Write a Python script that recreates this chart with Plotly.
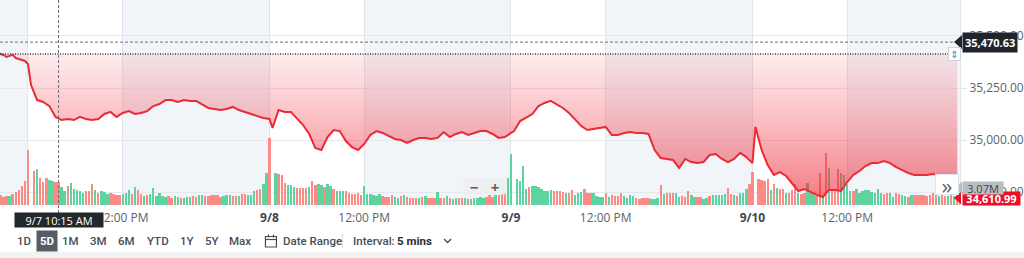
import plotly.graph_objects as go

# ---------------- data ----------------
day_labels = ["9/3", "9/7", "9/8", "9/9", "9/10"]
bars_per_day = 79          # 5-minute bars 9:30 ... 16:00
noon_bar = 30              # 12:00 PM
crosshair_day, crosshair_bar, crosshair_text = 1, 9, "9/7 10:15 AM"

# prices: 9/3 every bar from bar 68; other days every 2 bars from 9:30
price_0903_start = 68
price_0903 = [35418, 35413, 35409, 35399, 35404, 35409, 35394, 35389, 35385, 35380, 35365]
price_step = 2
price_0907 = [35264, 35192, 35183, 35163, 35111, 35096, 35101, 35096, 35111, 35101,
              35096, 35101, 35125, 35135, 35111, 35130, 35139, 35125, 35130, 35139,
              35163, 35173, 35192, 35192, 35183, 35192, 35188, 35188, 35173, 35154,
              35149, 35144, 35149, 35159, 35144, 35135, 35125, 35115, 35106, 35101]
price_0908 = [35058, 35144, 35135, 35135, 35106, 35072, 35029, 34962, 34952, 35014,
              35048, 35043, 34995, 34966, 34952, 34981, 35024, 35043, 35034, 35019,
              35005, 35000, 34986, 35000, 35010, 35010, 35005, 35010, 35038, 35014,
              35029, 35038, 35024, 35034, 35043, 35043, 35029, 35010, 35014, 35034]
price_0909 = [35043, 35091, 35106, 35125, 35163, 35178, 35188, 35173, 35154, 35130,
              35101, 35067, 35048, 35053, 35058, 35063, 35024, 35024, 35034, 35038,
              35034, 35034, 35029, 34952, 34913, 34909, 34904, 34865, 34909, 34894,
              34889, 34894, 34928, 34933, 34909, 34894, 34909, 34938, 34918, 34889]
price_0910 = [35063, 34952, 34880, 34832, 34846, 34827, 34788, 34755, 34764, 34750,
              34736, 34726, 34760, 34760, 34755, 34798, 34832, 34851, 34875, 34889,
              34889, 34899, 34889, 34870, 34856, 34841, 34832, 34832, 34832, 34837,
              34827, 34827, 34827, 34827]

prev_close = 35413
crosshair_price = 35470.63
last_price = 34610.99
last_volume = 3.07  # millions

# volume in millions ; u = up bar, d = down bar, - = none
vol_0903_start = 69
vol_0903 = [2.0, 1.6, 1.9, 1.9, 2.2, 2.6, 3.0, 3.8, 4.8, 11.0]
dir_0903 = "ddduddddd d"
vol_0907 = [0, 6.8, 7.2, 5.4, 4.6, 5.4, 5.0, 4.8, 4.6, 4.6,
            3.6, 2.8, 3.8, 4.4, 3.2, 3.0, 2.8, 2.4, 2.8, 2.8,
            4.2, 3.0, 2.4, 2.8, 2.6, 2.2, 2.4, 2.2, 2.0, 2.0,
            2.2, 2.4, 3.0, 2.2, 3.6, 3.0, 2.2, 1.8, 2.0, 2.2,
            3.4, 1.8, 2.4, 1.8, 1.6, 1.8, 1.4, 1.8, 1.6, 1.4,
            1.4, 1.6, 1.6, 1.8, 1.6, 2.0, 2.0, 1.8, 1.8, 2.0,
            2.0, 2.0, 1.6, 1.8, 2.0, 2.0, 1.8, 1.8, 1.8, 2.2,
            2.2, 2.0, 2.0, 2.8, 3.0, 3.2, 4.2, 6.4, 13.4]
dir_0907 = "-dudd duudd uuduu uuudd duduu udddd uuudu ddudu uuuuu dduud uuudd uuddd ddduu uddud duuud duud"
vol_0908 = [0, 6.4, 6.2, 6.0, 4.4, 4.0, 4.0, 3.6, 3.4, 3.4,
            3.4, 3.4, 3.6, 4.8, 4.0, 4.2, 4.0, 3.6, 4.2, 3.8,
            3.2, 2.8, 2.8, 2.8, 2.8, 2.4, 2.2, 2.2, 2.4, 2.0,
            3.8, 2.2, 2.2, 2.0, 1.8, 2.2, 1.8, 1.6, 1.6, 2.0,
            1.6, 1.4, 1.8, 2.0, 1.6, 1.4, 1.4, 1.4, 1.4, 1.6,
            1.8, 1.4, 1.4, 1.4, 2.6, 1.4, 1.4, 1.8, 1.4, 1.2,
            1.4, 1.4, 1.4, 1.4, 1.2, 1.2, 1.4, 1.4, 1.6, 1.4,
            1.6, 2.0, 1.6, 2.0, 2.0, 2.2, 2.4, 5.4, 10.2]
dir_0908 = "-uddd uuudd ddudd uuduu duuud ddddd uuuuu udddd uudud dddud udddu ddudu uddud uuuuu dddud dduu"
vol_0909 = [0, 5.2, 4.8, 7.8, 3.2, 3.6, 3.8, 3.8, 3.6, 3.2,
            2.8, 2.8, 3.0, 2.8, 2.8, 2.8, 2.6, 2.4, 2.4, 3.0,
            2.0, 2.4, 2.6, 3.2, 2.4, 2.4, 2.4, 1.8, 1.6, 1.6,
            2.4, 1.6, 2.0, 1.8, 1.8, 2.4, 1.8, 1.4, 2.0, 1.8,
            1.4, 1.2, 1.4, 1.4, 1.4, 1.2, 1.2, 1.4, 4.0, 2.2,
            2.4, 2.4, 2.4, 2.4, 1.6, 1.8, 1.6, 2.8, 2.0, 1.6,
            1.6, 1.6, 1.2, 1.4, 1.8, 2.0, 2.0, 2.0, 2.0, 2.2,
            3.4, 2.2, 2.0, 1.8, 2.4, 2.4, 3.2, 4.2, 6.6]
dir_0909 = "-uuuu duuuu uuudd ddudd uuudd duuuu duddd duuuu ddddd uuudu ddduu ddduu dduud uuuuu ddudu uudd"
vol_0910 = [0, 5.2, 5.0, 4.8, 5.2, 3.0, 4.2, 3.4, 3.2, 3.2,
            2.4, 2.4, 3.0, 4.2, 2.4, 2.2, 2.4, 4.4, 2.4, 2.2,
            1.8, 6.4, 1.8, 10.4, 7.4, 3.0, 3.2, 7.2, 6.4, 6.0,
            4.2, 2.8, 2.8, 3.2, 2.4, 2.8, 3.0, 3.0, 2.6, 2.4,
            3.2, 2.4, 2.2, 2.4, 2.4, 1.6, 2.4, 2.2, 2.0, 1.8,
            1.6, 2.0, 2.0, 2.0, 2.0, 2.0, 1.8, 2.0, 2.4, 2.2,
            1.8, 2.2, 1.8, 1.8, 2.2, 1.8, 2.0, 1.8]
dir_0910 = "-dddd ududd udddu dduuu ddudu ddduu uuduu uuuuu uuddu udduu duddd ddddd uddud udd"

y_ticks = [34750, 35000, 35250, 35500]
range_buttons = ["1D", "5D", "1M", "3M", "6M", "YTD", "1Y", "5Y", "Max"]

# ---------------- helpers ----------------
def idx(day, bar):
    return (day - 1) * bars_per_day + bar

W, H = 962, 205
def fx(px):
    return px / W
def fy(py):
    return (H - py) / H

GREEN, RED = "#5dd3a0", "#fa8c85"

# price series
px_x, px_y = [], []
for k, v in enumerate(price_0903):
    px_x.append(idx(0, price_0903_start + k)); px_y.append(v)
for d, arr in zip([1, 2, 3, 4], [price_0907, price_0908, price_0909, price_0910]):
    for k, v in enumerate(arr):
        px_x.append(idx(d, k * price_step)); px_y.append(v)

# volume series
vx, vy, vc = [], [], []
def add_vol(day, start, vols, dirs):
    dirs = dirs.replace(" ", "")
    for k, (v, s) in enumerate(zip(vols, dirs)):
        vx.append(idx(day, start + k)); vy.append(v)
        vc.append(GREEN if s == "u" else RED)
add_vol(0, vol_0903_start, vol_0903, dir_0903)
for d, vols, dirs in [(1, vol_0907, dir_0907), (2, vol_0908, dir_0908),
                      (3, vol_0909, dir_0909), (4, vol_0910, dir_0910)]:
    add_vol(d, 0, vols, dirs)

x_lo = -10.15
x_hi = 303.9

fig = go.Figure()
fig.add_trace(go.Bar(x=vx, y=vy, marker=dict(color=vc, line=dict(width=0)),
                     width=0.78, yaxis="y", hoverinfo="skip", showlegend=False))
fig.add_trace(go.Scatter(x=px_x, y=[prev_close] * len(px_x), yaxis="y2", mode="lines",
                         line=dict(width=0, color="rgba(0,0,0,0)"), hoverinfo="skip",
                         showlegend=False))
fig.add_trace(go.Scatter(x=px_x, y=px_y, yaxis="y2", mode="lines", fill="tonexty",
                         fillgradient=dict(type="vertical",
                                           colorscale=[[0, "rgba(236,32,48,0.58)"],
                                                       [1, "rgba(245,70,85,0.10)"]]),
                         line=dict(color="#ec2a36", width=2), hoverinfo="skip",
                         showlegend=False))

# ticks
tickvals, ticktext = [], []
for d in range(1, 5):
    tickvals.append(idx(d, 0) - 1)
    ticktext.append('<span style="color:#3f474f;font-weight:bold">%s</span>' % day_labels[d])
    tickvals.append(idx(d, noon_bar))
    ticktext.append("12:00 PM")

shapes = []
BAND = "#f1f4f8"
bands = [(x_lo, idx(1, 0) - 1)]
for d in range(1, 5):
    end = idx(d + 1, 0) - 1 if d < 4 else x_hi
    bands.append((idx(d, noon_bar), end))
for a, b in bands:
    shapes.append(dict(type="rect", xref="x", yref="paper", x0=a, x1=b, y0=0, y1=1,
                       fillcolor=BAND, line=dict(width=0), layer="below"))
# previous close dotted line
shapes.append(dict(type="line", xref="paper", yref="y2", x0=0, x1=1, y0=prev_close, y1=prev_close,
                   line=dict(color="#33383d", width=1.5, dash="1px,1.5px")))
# crosshair
shapes.append(dict(type="line", xref="paper", yref="y2", x0=0, x1=1, y0=crosshair_price,
                   y1=crosshair_price, line=dict(color="#6b7075", width=1, dash="3px,2px")))
cx = idx(crosshair_day, crosshair_bar)
shapes.append(dict(type="line", xref="x", yref="paper", x0=cx, x1=cx, y0=fy(213), y1=1,
                   line=dict(color="#6b7075", width=1, dash="3px,2px")))
# pointer triangles for right labels
shapes.append(dict(type="path", xref="paper", yref="y2", xsizemode="pixel", ysizemode="pixel",
                   xanchor=1, yanchor=crosshair_price, path="M -6 0 L 2 7 L 2 -7 Z",
                   fillcolor="#1f252b", line=dict(width=0)))
shapes.append(dict(type="path", xref="paper", yref="paper", path="M %f %f L %f %f L %f %f Z" % (
    fx(956), fy(198), fx(963), fy(191.5), fx(963), fy(204.5)), fillcolor="#eb0f29", line=dict(width=0)))
shapes.append(dict(type="path", xref="paper", yref="y", xsizemode="pixel", ysizemode="pixel",
                   xanchor=1, yanchor=last_volume, path="M -5 2 L 2 8 L 2 -4 Z",
                   fillcolor="#b9bec3", line=dict(width=0)))
# bottom strip
shapes.append(dict(type="rect", xref="paper", yref="paper", x0=-0.01, x1=1.1, y0=fy(259), y1=fy(252),
                   fillcolor="#f0f2f4", line=dict(width=0)))
# calendar icon
shapes.append(dict(type="rect", xref="paper", yref="paper", x0=fx(266), x1=fx(277), y0=fy(247),
                   y1=fy(236.5), line=dict(color="#464e56", width=1.2)))
shapes.append(dict(type="line", xref="paper", yref="paper", x0=fx(266), x1=fx(277), y0=fy(239.5),
                   y1=fy(239.5), line=dict(color="#464e56", width=1.2)))
for xx in (269, 274):
    shapes.append(dict(type="line", xref="paper", yref="paper", x0=fx(xx), x1=fx(xx), y0=fy(237.5),
                       y1=fy(234.5), line=dict(color="#464e56", width=1.2)))
# separator and chevron
shapes.append(dict(type="line", xref="paper", yref="paper", x0=fx(343), x1=fx(343), y0=fy(248),
                   y1=fy(234), line=dict(color="#d5d9dd", width=1)))
shapes.append(dict(type="path", xref="paper", yref="paper",
                   path="M %f %f L %f %f L %f %f" % (fx(445), fy(239), fx(448.5), fy(242.5), fx(452), fy(239)),
                   line=dict(color="#464e56", width=1.3)))

FONT = "Open Sans"
TB = "Roboto"
ann = []
ann.append(dict(xref="paper", yref="y2", x=1, y=crosshair_price, xanchor="left", yanchor="middle",
                xshift=2, text="<b>%s</b>" % format(crosshair_price, ",.2f"),
                font=dict(family=FONT, size=11, color="white"), bgcolor="#1f252b",
                borderpad=2, showarrow=False))
ann.append(dict(xref="paper", yref="paper", x=1, y=fy(198), xanchor="left", yanchor="middle",
                xshift=2, text="<b>%s</b>" % format(last_price, ",.2f"),
                font=dict(family=FONT, size=11, color="white"), bgcolor="#eb0f29",
                width=57, height=13, borderpad=0, showarrow=False))
ann.append(dict(xref="paper", yref="y", x=1, y=last_volume, xanchor="left", yanchor="middle",
                xshift=2, yshift=2, text="%.2fM" % last_volume,
                font=dict(family=FONT, size=11, color="#40464c"), bgcolor="#b9bec3",
                width=40, height=12, borderpad=0, showarrow=False))
ann.append(dict(xref="x", yref="paper", x=cx, y=fy(220), xanchor="center", yanchor="middle",
                text=crosshair_text, font=dict(family=FONT, size=11, color="white"),
                bgcolor="#23282d", width=86, height=12, borderpad=1, showarrow=False))
# small toggle button on prev close line
ann.append(dict(xref="paper", yref="y2", x=fx(956), y=prev_close, xanchor="center", yanchor="middle",
                text="⇕", font=dict(family="DejaVu Sans", size=10, color="#4f7fd4"),
                bgcolor="white", bordercolor="#cfd4d9", borderwidth=1, width=11, height=12,
                borderpad=0, showarrow=False))
# zoom buttons
for xx, t in [(475, "−"), (496, "+")]:
    ann.append(dict(xref="paper", yref="paper", x=fx(xx), y=fy(186), xanchor="center", yanchor="middle",
                    text="<b>%s</b>" % t, font=dict(family=FONT, size=15, color="#5b636a"),
                    bgcolor="rgba(236,238,240,0.95)", borderpad=0, width=20, height=15, showarrow=False))
ann.append(dict(xref="paper", yref="paper", x=fx(948.5), y=fy(184.5), xanchor="center", yanchor="middle",
                text="»", font=dict(family=FONT, size=22, color="#5b636a"),
                bgcolor="white", bordercolor="#e2e5e8", borderwidth=1, width=20, height=17,
                showarrow=False))
# toolbar
btn_x = [24, 47.5, 71, 99, 127, 158, 187, 212, 241]
for t, xx in zip(range_buttons, btn_x):
    sel = t == "5D"
    ann.append(dict(xref="paper", yref="paper", x=fx(xx), y=fy(241), xanchor="center", yanchor="middle",
                    text="<b>%s</b>" % t if sel else t,
                    font=dict(family=TB, size=11.5, color="white" if sel else "#464e56", weight=500),
                    bgcolor="#565d64" if sel else "rgba(0,0,0,0)", borderpad=3 if sel else 0,
                    showarrow=False))
for t, xx, bold in [("Date Range", 282, False), ("Interval:", 352, False), ("5 mins", 395.5, True)]:
    ann.append(dict(xref="paper", yref="paper", x=fx(xx), y=fy(241), xanchor="left", yanchor="middle",
                    text="<b>%s</b>" % t if bold else t,
                    font=dict(family=TB, size=11.5, color="#262c32" if bold else "#464e56", weight=500),
                    showarrow=False))

fig.update_layout(
    width=1024, height=258,
    margin=dict(l=0, r=62, t=0, b=53),
    paper_bgcolor="white", plot_bgcolor="white",
    bargap=0, showlegend=False, hovermode=False,
    xaxis=dict(range=[x_lo, x_hi], tickvals=tickvals, ticktext=ticktext, showgrid=True,
               gridcolor="#e2e5e9", gridwidth=1, zeroline=False, showline=False, ticks="",
               ticklabelstandoff=4,
               tickfont=dict(family=FONT, size=12, color="#5b636a"), fixedrange=True),
    yaxis=dict(range=[0, 41], visible=False, fixedrange=True),
    yaxis2=dict(overlaying="y", side="right", range=[34687.6, 35673], tickvals=y_ticks,
                ticktext=[format(v, ",.2f") for v in y_ticks], showgrid=True,
                gridcolor="#e6e9ec", zeroline=False, ticks="outside", ticklen=6,
                tickcolor="#e3e6ea", showline=True, linecolor="#e3e6ea",
                tickfont=dict(family=FONT, size=12, color="#5b636a"), fixedrange=True),
    shapes=shapes, annotations=ann,
)
fig.write_html("out.html")
